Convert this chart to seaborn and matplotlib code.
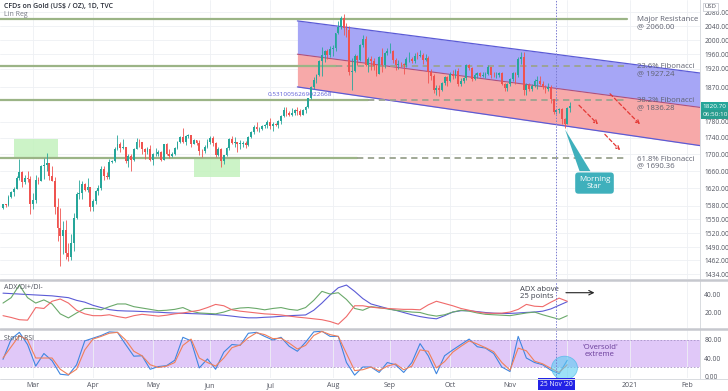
import matplotlib
matplotlib.use('Agg')
import matplotlib.pyplot as plt
import matplotlib.transforms as mtransforms
from matplotlib.patches import Rectangle, Ellipse, Polygon
from matplotlib.lines import Line2D
from matplotlib.ticker import NullLocator
import numpy as np
import pandas as pd
import seaborn as sns

# ---- daily gold candles, 14 Feb 2020 .. 2 Dec 2020 (one row per week) ----
first_open = 1576
close = np.array([
    1584,
    1581, 1601, 1611, 1619, 1643,
    1659, 1634, 1643, 1642, 1585,
    1594, 1640, 1636, 1672, 1674,
    1680, 1649, 1636, 1577, 1530,
    1513, 1526, 1477, 1470, 1498,
    1553, 1607, 1610, 1631, 1617,
    1622, 1577, 1591, 1613, 1620,
    1664, 1648, 1645, 1682, 1683,
    1714, 1726, 1716, 1717, 1683,
    1695, 1686, 1713, 1730, 1729,
    1713, 1706, 1712, 1686, 1700,
    1702, 1705, 1686, 1725, 1702,
    1697, 1701, 1715, 1730, 1743,
    1731, 1745, 1747, 1726, 1734,
    1728, 1709, 1708, 1719, 1730,
    1740, 1727, 1699, 1714, 1684,
    1698, 1715, 1737, 1727, 1730,
    1726, 1726, 1727, 1722, 1743,
    1754, 1768, 1762, 1763, 1771,
    1772, 1781, 1770, 1775, 1772,
    1783, 1795, 1810, 1803, 1799,
    1802, 1810, 1809, 1797, 1810,
    1818, 1842, 1871, 1889, 1902,
    1942, 1958, 1970, 1958, 1975,
    1977, 2019, 2037, 2063, 2035,
    2028, 1911, 1915, 1954, 1944,
    1985, 2003, 1929, 1946, 1940,
    1928, 1906, 1953, 1930, 1964,
    1968, 1970, 1944, 1930, 1934,
    1932, 1930, 1946, 1947, 1941,
    1956, 1954, 1959, 1944, 1950,
    1912, 1900, 1863, 1868, 1862,
    1881, 1898, 1886, 1906, 1900,
    1913, 1878, 1887, 1894, 1930,
    1922, 1892, 1902, 1908, 1899,
    1904, 1907, 1924, 1904, 1902,
    1902, 1908, 1878, 1868, 1879,
    1893, 1909, 1904, 1947, 1951,
    1862, 1877, 1866, 1874, 1888,
    1888, 1880, 1871, 1866, 1871,
    1838, 1805, 1811, 1812, 1788,
    1776, 1815, 1821,
])
high = np.array([
    1585,
    1584, 1604, 1613, 1624, 1649,
    1689, 1660, 1651, 1661, 1648,
    1610, 1650, 1645, 1675, 1692,
    1703, 1680, 1672, 1645, 1597,
    1575, 1547, 1548, 1499, 1518,
    1565, 1612, 1638, 1637, 1632,
    1643, 1623, 1595, 1617, 1627,
    1671, 1672, 1659, 1689, 1687,
    1719, 1747, 1730, 1738, 1718,
    1700, 1700, 1716, 1739, 1737,
    1729, 1716, 1719, 1722, 1704,
    1716, 1711, 1709, 1726, 1727,
    1712, 1705, 1717, 1732, 1744,
    1765, 1747, 1749, 1748, 1737,
    1736, 1736, 1714, 1723, 1737,
    1744, 1745, 1730, 1718, 1715,
    1699, 1718, 1739, 1745, 1742,
    1730, 1735, 1732, 1733, 1745,
    1757, 1772, 1779, 1767, 1772,
    1775, 1785, 1789, 1779, 1777,
    1785, 1797, 1818, 1818, 1809,
    1817, 1813, 1818, 1813, 1812,
    1821, 1843, 1873, 1898, 1906,
    1945, 1981, 1971, 1975, 1983,
    1986, 2021, 2055, 2069, 2075,
    2049, 2039, 1949, 1960, 1959,
    1988, 2015, 2012, 1951, 1956,
    1950, 1934, 1955, 1976, 1966,
    1976, 1992, 1971, 1950, 1945,
    1938, 1936, 1952, 1966, 1952,
    1962, 1967, 1973, 1962, 1960,
    1955, 1918, 1906, 1875, 1877,
    1884, 1899, 1900, 1910, 1917,
    1919, 1921, 1895, 1897, 1933,
    1933, 1925, 1909, 1912, 1912,
    1912, 1912, 1931, 1925, 1910,
    1911, 1912, 1911, 1882, 1882,
    1895, 1910, 1912, 1953, 1965,
    1965, 1881, 1882, 1879, 1893,
    1900, 1899, 1888, 1875, 1881,
    1875, 1839, 1814, 1815, 1815,
    1790, 1818, 1832,
])
low = np.array([
    1572,
    1578, 1580, 1598, 1603, 1618,
    1640, 1624, 1630, 1634, 1562,
    1573, 1587, 1630, 1636, 1642,
    1660, 1640, 1636, 1562, 1504,
    1451, 1475, 1466, 1460, 1463,
    1482, 1550, 1596, 1596, 1613,
    1612, 1569, 1568, 1584, 1604,
    1616, 1640, 1641, 1642, 1680,
    1681, 1710, 1705, 1714, 1680,
    1670, 1660, 1685, 1713, 1717,
    1702, 1690, 1702, 1683, 1675,
    1697, 1696, 1683, 1686, 1698,
    1692, 1693, 1698, 1714, 1728,
    1727, 1723, 1740, 1717, 1726,
    1722, 1698, 1693, 1703, 1715,
    1726, 1720, 1693, 1697, 1670,
    1677, 1695, 1710, 1724, 1718,
    1705, 1712, 1718, 1716, 1721,
    1741, 1751, 1757, 1754, 1760,
    1764, 1764, 1763, 1757, 1770,
    1764, 1775, 1793, 1796, 1795,
    1795, 1797, 1799, 1795, 1797,
    1803, 1816, 1840, 1865, 1882,
    1901, 1901, 1939, 1947, 1953,
    1954, 1970, 2017, 2032, 2013,
    2009, 1902, 1863, 1911, 1931,
    1940, 1980, 1928, 1912, 1916,
    1917, 1901, 1905, 1910, 1923,
    1958, 1963, 1936, 1916, 1920,
    1925, 1907, 1925, 1939, 1935,
    1937, 1948, 1951, 1933, 1940,
    1882, 1890, 1855, 1849, 1848,
    1859, 1877, 1874, 1884, 1893,
    1895, 1874, 1873, 1882, 1889,
    1917, 1886, 1889, 1894, 1897,
    1897, 1895, 1903, 1894, 1898,
    1896, 1897, 1876, 1859, 1861,
    1873, 1888, 1880, 1898, 1934,
    1850, 1849, 1861, 1859, 1872,
    1865, 1876, 1866, 1855, 1861,
    1830, 1801, 1800, 1804, 1775,
    1764, 1774, 1805,
])
last_price = 1820.70

# ---- indicators, read every third bar ----
adx = [41, 40.5, 40, 39.5, 39, 38.5, 38, 37, 36, 33,
       31, 27.5, 25, 22.7, 21.6, 21.2, 21, 20.6, 20.2, 19.8,
       19.3, 18.9, 18.6, 18.3, 18, 17.6, 17.1, 16.5, 15.5, 14.4,
       13.6, 13.6, 14.2, 14.6, 15.3, 16, 16.4, 16.8, 22, 30,
       39, 47, 50, 43, 35, 29, 26.5, 24, 22, 19.5,
       17, 15, 13.5, 12.5, 16, 20, 21.5, 21.5, 20.5, 19.5,
       18.8, 18.4, 18.5, 19, 19.6, 20, 21, 23.5, 27.5, 31.5]
di_plus = [30, 36, 50, 36, 30, 33.5, 29, 18, 13.5, 19,
           24, 24, 22.5, 26, 29, 29, 26, 24.5, 23, 21.5,
           22, 23, 25, 21, 19, 18.5, 18, 20, 23, 24.5,
           25, 24, 22.5, 24, 25, 23, 22, 25, 33, 43,
           40, 41.5, 34, 24, 22, 26, 25, 23.5, 22, 21,
           20, 19.5, 17, 15.5, 17, 20, 22, 21, 19, 17.5,
           17, 16.5, 16, 17.5, 19, 20, 17, 14.5, 12, 16]
di_minus = [16, 14, 11.5, 11, 25, 24, 32, 34.5, 30, 22,
            18, 16, 16, 17, 15, 13.5, 16, 17.5, 16.5, 15.5,
            16.5, 18, 19, 20.5, 22, 25, 28.5, 27, 22.5, 21,
            20, 19, 18, 17.5, 16.8, 15.5, 14.4, 13.5, 12.5, 11.5,
            9.5, 6.5, 15, 27, 27, 25.5, 24.5, 24, 23.5, 23,
            23, 22.5, 28, 32, 29.5, 27, 24, 22, 20, 18.8,
            18.6, 18.8, 20, 23, 28.5, 26.5, 26, 31, 35.5, 32]
stoch_k = [37, 82, 97, 70, 22, 50, 34, 4, 2, 25,
           78, 84, 90, 98, 97, 70, 44, 45, 15, 21,
           23, 35, 86, 78, 18, 38, 15, 53, 70, 68,
           95, 97, 88, 80, 86, 66, 55, 75, 98, 99.5,
           88, 88, 30, 2, 20, 20, 8, 30, 25, 8,
           30, 72, 45, 5, 45, 58, 70, 82, 65, 62,
           50, 20, 10, 88, 40, 30, 25, 13, 5, 35]
stoch_d = [40, 65, 90, 80, 40, 40, 40, 15, 3, 15,
           58, 82, 88, 95, 97, 80, 55, 45, 25, 19,
           22, 30, 68, 82, 40, 30, 22, 40, 63, 69,
           85, 96, 92, 83, 84, 73, 60, 68, 90, 99,
           92, 88, 50, 12, 14, 20, 12, 22, 27, 14,
           22, 58, 55, 18, 32, 53, 66, 78, 71, 63,
           54, 30, 13, 62, 56, 33, 27, 17, 8, 25]

# ---- drawings ----
levels = [2060.00, 1927.24, 1836.28, 1690.36]
level_names = ['Major Resistance', '23.6% Fibonacci', '38.2% Fibonacci', '61.8% Fibonacci']
level_solid_to = ['2020-12-31', '2020-08-04', '2020-08-20', '2020-08-14']
level_end = '2020-12-31'
reg_dates = ['2020-07-15', '2021-02-08']
reg_upper = [2055, 1908]
reg_mid = [1960, 1817]
reg_lower = [1871, 1721]
zones = [('2020-02-20', '2020-03-13', 1690, 1737), ('2020-05-22', '2020-06-16', 1647, 1690)]
price_ticks = [2080, 2040, 2000, 1960, 1920, 1870, 1780, 1740, 1700, 1660,
               1620, 1580, 1550, 1520, 1490, 1462, 1434]
month_names = ['Mar', 'Apr', 'May', 'Jun', 'Jul', 'Aug', 'Sep', 'Oct', 'Nov', '', '2021', 'Feb']
cursor_day = '2020-11-25'

sns.set_theme(style='white')
plt.rcParams['font.family'] = ['Open Sans', 'DejaVu Sans']

UP, DOWN = '#26a69a', '#ef5350'
GREY = '#50535e'
W, H = 728, 391
fig = plt.figure(figsize=(W / 100, H / 100), dpi=100)
fig.patch.set_facecolor('white')


def rows(y0, y1):
    return [0, 1 - y1 / H, 700 / W, (y1 - y0) / H]


ax = fig.add_axes(rows(0, 279))
ax_adx = fig.add_axes(rows(281, 328), sharex=ax)
ax_st = fig.add_axes(rows(330, 378), sharex=ax)

axis_days = pd.bdate_range('2020-02-14', '2021-03-05')
def pos(d):
    return axis_days.get_loc(pd.Timestamp(d))

idx = np.arange(len(close))
opens = np.r_[first_open, close[:-1]]
colors = np.where(close >= opens, UP, DOWN)

# candles
ax.vlines(idx, low, high, colors=colors, lw=0.6, zorder=4)
ax.bar(idx, np.maximum(np.abs(close - opens), 0.8), bottom=np.minimum(opens, close),
       width=0.68, color=colors, zorder=5, linewidth=0)

ax.set_yscale('log')
ax.set_ylim(1424, 2117)
ax.set_xlim(-1.1, 255.7)

# regression channel
rx = [pos(d) for d in reg_dates]
ax.fill_between(rx, reg_mid, reg_upper, color='#a6a6f6', lw=0, zorder=1)
ax.fill_between(rx, reg_lower, reg_mid, color='#f7a9a9', lw=0, zorder=1)
ax.plot(rx, reg_upper, color='#5b5bd6', lw=0.9, zorder=2)
ax.plot(rx, reg_lower, color='#5b5bd6', lw=0.9, zorder=2)
ax.plot(rx, reg_mid, color='#b0507a', lw=0.8, zorder=2)
ax.text(pos('2020-06-30'), 1851, '0.5310056269022668', color='#5b5bd6', fontsize=4.6,
        va='center', ha='left', zorder=6)

# support / resistance zones
for d0, d1, p0, p1 in zones:
    ax.add_patch(Rectangle((pos(d0), p0), pos(d1) - pos(d0), p1 - p0,
                           color='#c3f2bd', alpha=0.85, lw=0, zorder=2))

# horizontal levels and labels
for lvl, name, solid_to in zip(levels, level_names, level_solid_to):
    ax.plot([-1.1, pos(solid_to)], [lvl, lvl], color='#9bb486', lw=1.6, zorder=3)
    if pos(solid_to) < pos(level_end):
        ax.plot([pos(solid_to), pos(level_end)], [lvl, lvl], color='#9aa38f', lw=1.3,
                dashes=(3.5, 2.5), zorder=3)
    ax.annotate(f'{name}\n@ {lvl:.2f}', xy=(pos(level_end) + 3.5, lvl), xytext=(0, -3),
                textcoords='offset points', fontsize=5.6, color='#5f6270', va='center',
                ha='left', linespacing=1.0, zorder=6)

# projected path arrows
arrow_paths = [((210.6, 1828), (219.0, 1769)), ((220.1, 1754), (227.1, 1705)),
               ((222.0, 1858), (234.4, 1769))]
for (x0, y0), (x1, y1) in arrow_paths:
    ax.annotate('', xy=(x1, y1), xytext=(x0, y0),
                arrowprops=dict(arrowstyle='->', color='#e53935', lw=0.9, linestyle=(0, (3, 2)),
                                mutation_scale=6), zorder=6)

# morning star callout
ms_day = pos('2020-11-30')
ax.add_patch(Polygon([(ms_day + 0.2, 1761), (ms_day + 5.5, 1660), (ms_day + 9.5, 1660)],
                     closed=True, color='#3fb0bc', lw=0, zorder=6))
ax.text(ms_day + 11, 1632, 'Morning\nStar', color='white', fontsize=5.8, ha='center',
        va='center', linespacing=1.0, zorder=7,
        bbox=dict(boxstyle='round,pad=0.45,rounding_size=0.4', fc='#3fb0bc', ec='none'))

# price axis
ax.yaxis.tick_right()
ax.yaxis.set_minor_locator(NullLocator())
ax.set_yticks(price_ticks)
ax.set_yticklabels([f'{p:.2f}' for p in price_ticks])
ax.tick_params(axis='y', length=0, pad=3, labelsize=4.8, labelcolor=GREY)
ax.tick_params(axis='x', labelbottom=False, length=0)
ax.grid(True, color='#eef0f4', lw=0.6)

trans = mtransforms.blended_transform_factory(ax.transAxes, ax.transData)
ax.text(1.004, last_price, f'{last_price:.2f}', transform=trans, fontsize=4.6, color='white',
        va='center', ha='left', zorder=8,
        bbox=dict(boxstyle='square,pad=0.3', fc='#26a69a', ec='none'))
ax.annotate('06:50:10', xy=(1.004, last_price), xycoords=trans, xytext=(0, -6.2),
            textcoords='offset points', fontsize=4.6, color='white', va='center', ha='left',
            zorder=8, bbox=dict(boxstyle='square,pad=0.3', fc='#2a9d8f', ec='none'),
            annotation_clip=False)
ax.text(1.006, 0.975, 'USD', transform=ax.transAxes, fontsize=4.2, color=GREY, ha='left',
        va='center', bbox=dict(boxstyle='square,pad=0.25', fc='white', ec='#c0c3ca', lw=0.5))

ax.text(0.005, 0.978, 'CFDs on Gold (US$ / OZ), 1D, TVC', transform=ax.transAxes,
        fontsize=5, color='#2a2e39', fontweight='semibold', va='center')
ax.text(0.005, 0.948, 'Lin Reg', transform=ax.transAxes, fontsize=5, color='#787b86',
        va='center')

# ADX / DI panel
ind_x = idx[::3]
sns.lineplot(x=ind_x, y=adx, ax=ax_adx, color='#5b5bd6', lw=0.8)
sns.lineplot(x=ind_x, y=di_plus, ax=ax_adx, color='#6aa96a', lw=0.8)
sns.lineplot(x=ind_x, y=di_minus, ax=ax_adx, color='#f06a6a', lw=0.8)
ax_adx.set_ylim(2.3, 54.5)
ax_adx.yaxis.tick_right()
ax_adx.set_yticks([40, 20])
ax_adx.set_yticklabels(['40.00', '20.00'])
ax_adx.tick_params(axis='y', length=0, pad=3, labelsize=4.8, labelcolor=GREY)
ax_adx.tick_params(axis='x', labelbottom=False, length=0)
ax_adx.grid(True, axis='x', color='#eef0f4', lw=0.6)
ax_adx.text(0.005, 0.86, 'ADX/DI+/DI-', transform=ax_adx.transAxes, fontsize=5,
            color=GREY, va='center')
ax_adx.text(189.5, 41.5, 'ADX above\n25 points', fontsize=5.6, color='#3c3f4a', va='center',
            ha='left', linespacing=1.0)
ax_adx.annotate('', xy=(218, 41.5), xytext=(205.5, 41.5),
                arrowprops=dict(arrowstyle='->', color='#222222', lw=0.8, mutation_scale=8))

# Stoch RSI panel
ax_st.axhspan(20, 80, color='#e0c8f8', lw=0, zorder=0)
ax_st.axhline(80, color='#a895c8', lw=0.6, dashes=(2, 2))
ax_st.axhline(20, color='#a895c8', lw=0.6, dashes=(2, 2))
sns.lineplot(x=ind_x, y=stoch_k, ax=ax_st, color='#3f86e0', lw=0.8)
sns.lineplot(x=ind_x, y=stoch_d, ax=ax_st, color='#f0805a', lw=0.8)
ax_st.set_ylim(-4.4, 102.2)
ax_st.yaxis.tick_right()
ax_st.set_yticks([80, 40, 0])
ax_st.set_yticklabels(['80.00', '40.00', '0.00'])
ax_st.tick_params(axis='y', length=0, pad=3, labelsize=4.8, labelcolor=GREY)
ax_st.grid(True, axis='x', color='#eef0f4', lw=0.6)
ax_st.text(0.005, 0.82, 'Stoch RSI', transform=ax_st.transAxes, fontsize=5, color=GREY,
           va='center')
ax_st.add_patch(Ellipse((pos('2020-11-30'), 18), 9.5, 52, fc='#5ccdf2', ec='#35b4e6',
                        alpha=0.6, lw=0.6, zorder=5))
ax_st.text(pos('2020-12-17'), 56, "'Oversold'\nextreme", fontsize=5.6, color='#6a3d9a',
           ha='center', va='center', linespacing=1.0)

month_starts = pd.Series(axis_days).groupby([axis_days.year, axis_days.month]).first()
month_starts = [pos(d) for d in month_starts.values][1:13]
ax_st.set_xticks(month_starts)
ax_st.set_xticklabels(month_names)
ax_st.tick_params(axis='x', length=0, pad=3, labelsize=5, labelcolor=GREY)

xtrans = mtransforms.blended_transform_factory(ax_st.transData, ax_st.transAxes)
ax_st.text(pos(cursor_day), -0.13, "25 Nov '20", transform=xtrans, fontsize=4.8,
           color='white', ha='center', va='center', zorder=9,
           bbox=dict(boxstyle='square,pad=0.35', fc='#2323e6', ec='none'))

for a in (ax, ax_adx, ax_st):
    a.axvline(pos(cursor_day), color='#7b7bd0', lw=0.7, ls=(0, (1.5, 1.5)), zorder=7)
    for s in ('top', 'left', 'bottom'):
        a.spines[s].set_visible(False)
    a.spines['right'].set_color('#d8dbe0')
    a.spines['right'].set_linewidth(0.7)
    a.set_xlabel('')
    a.set_ylabel('')
    a.set_facecolor('white')

for y in (279.8, 329.2):
    fig.add_artist(Line2D([0, 1], [1 - y / H] * 2, color='#c6c8ce', lw=1.8))
fig.add_artist(Line2D([0, 1], [1 - 378.5 / H] * 2, color='#d8dbe0', lw=0.7))

fig.savefig('out.png', dpi=100)
